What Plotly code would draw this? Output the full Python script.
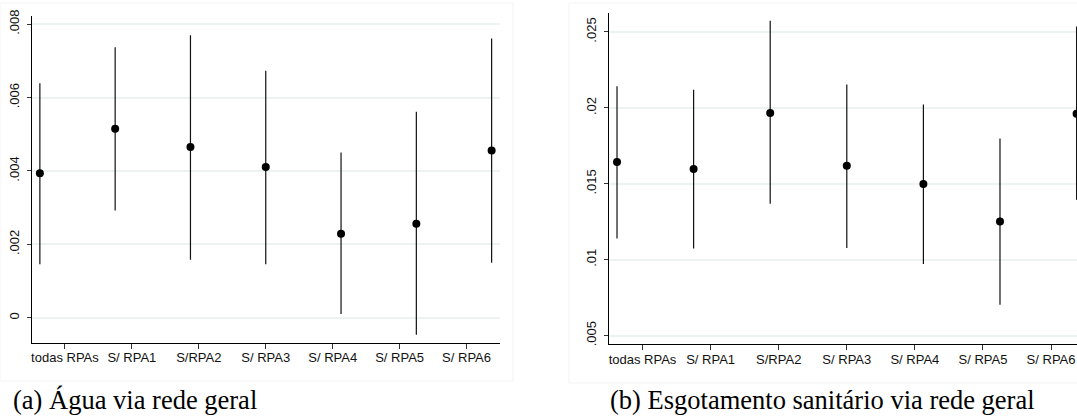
import plotly.graph_objects as go

# ---- data ----
categories = ["todas RPAs", "S/ RPA1", "S/RPA2", "S/ RPA3", "S/ RPA4", "S/ RPA5", "S/ RPA6"]
tick_positions = [1, 2, 3, 4, 5, 6, 7]
point_positions = [0.625, 1.75, 2.875, 4.0, 5.125, 6.25, 7.375]

agua_coef = [0.00394, 0.00515, 0.00465, 0.00411, 0.00229, 0.00256, 0.00456]
agua_hi = [0.00639, 0.00737, 0.00770, 0.00673, 0.00450, 0.00561, 0.00761]
agua_lo = [0.00146, 0.00292, 0.00158, 0.00146, 0.00010, -0.00046, 0.00150]

esgoto_coef = [0.01643, 0.01597, 0.01967, 0.01619, 0.01498, 0.01252, 0.01962]
esgoto_hi = [0.02143, 0.02119, 0.02574, 0.02154, 0.02022, 0.01798, 0.02536]
esgoto_lo = [0.01140, 0.01074, 0.01368, 0.01077, 0.00972, 0.00704, 0.01395]

agua_yticks = [0, 0.002, 0.004, 0.006, 0.008]
agua_yticktext = ["0", ".002", ".004", ".006", ".008"]
esgoto_yticks = [0.005, 0.01, 0.015, 0.02, 0.025]
esgoto_yticktext = [".005", ".01", ".015", ".02", ".025"]

captions = ["(a) Água via rede geral", "(b) Esgotamento sanitário via rede geral"]

W, H = 1077, 416


def px(xw):
    return xw / W


def py(yw):
    return (H - yw) / H


fig = go.Figure()


def add_panel(coef, lo, hi, xa, ya):
    fig.add_trace(go.Scatter(
        x=point_positions, y=coef, mode="markers",
        marker=dict(color="black", size=8),
        error_y=dict(type="data", symmetric=False,
                     array=[h - c for h, c in zip(hi, coef)],
                     arrayminus=[c - l for c, l in zip(coef, lo)],
                     width=0, thickness=1.2, color="#111111"),
        xaxis=xa, yaxis=ya, showlegend=False, cliponaxis=True,
    ))


add_panel(agua_coef, agua_lo, agua_hi, "x", "y")
add_panel(esgoto_coef, esgoto_lo, esgoto_hi, "x2", "y2")

tick_font = dict(family="Liberation Sans, Arial, sans-serif", size=13, color="#111111")

xcommon = dict(tickmode="array", tickvals=tick_positions, ticktext=categories,
               showline=True, linecolor="black", linewidth=1,
               ticks="outside", ticklen=5, tickcolor="#333333", tickwidth=1,
               showgrid=False, zeroline=False, tickfont=tick_font, automargin=False,
               ticklabeloverflow="allow", ticklabelstandoff=-2)
ycommon = dict(tickmode="array", showline=True, linecolor="black", linewidth=1,
               ticks="outside", ticklen=4, tickcolor="#333333", tickwidth=1,
               showgrid=True, gridcolor="#edf2f2", gridwidth=1.5,
               zeroline=False, tickangle=-90, tickfont=tick_font, automargin=False,
               ticklabeloverflow="allow", ticklabelstandoff=2)

fig.update_layout(
    width=W, height=H,
    margin=dict(l=0, r=0, t=0, b=0, pad=0),
    paper_bgcolor="white", plot_bgcolor="white",
    xaxis=dict(domain=[px(31.5), px(500)], range=[0.5, 7.5], anchor="y", **xcommon),
    yaxis=dict(domain=[py(342.7), py(15.7)], range=[-0.00068, 0.00823],
               tickvals=agua_yticks, ticktext=agua_yticktext, anchor="x", **ycommon),
    xaxis2=dict(domain=[px(608.5), 1.0], range=[0.5, 7.381], anchor="y2", **xcommon),
    yaxis2=dict(domain=[py(344), py(12.7)], range=[0.00445, 0.02627],
                tickvals=esgoto_yticks, ticktext=esgoto_yticktext, anchor="x2", **ycommon),
)

# faint panel frames (graph regions)
fig.add_shape(type="rect", xref="paper", yref="paper",
              x0=0, x1=px(513), y0=py(381), y1=py(3),
              line=dict(color="#f3f3f3", width=1), fillcolor="rgba(0,0,0,0)", layer="below")
fig.add_shape(type="rect", xref="paper", yref="paper",
              x0=px(569), x1=1.2, y0=py(383), y1=py(3),
              line=dict(color="#f3f3f3", width=1), fillcolor="rgba(0,0,0,0)", layer="below")

cap_font = dict(family="Liberation Serif, Times New Roman, serif", size=26.5, color="black")
for cx, text in zip([px(11), px(608)], captions):
    fig.add_annotation(x=cx, y=py(400), xref="paper", yref="paper",
                       text=text, showarrow=False, xanchor="left", yanchor="middle",
                       font=cap_font)

# remove the default 8px body margin so the figure sits at the window's top-left corner
fig.write_html("out.html",
               config={"displayModeBar": False},
               post_script="document.body.style.margin='0px';document.body.style.overflow='hidden';")
